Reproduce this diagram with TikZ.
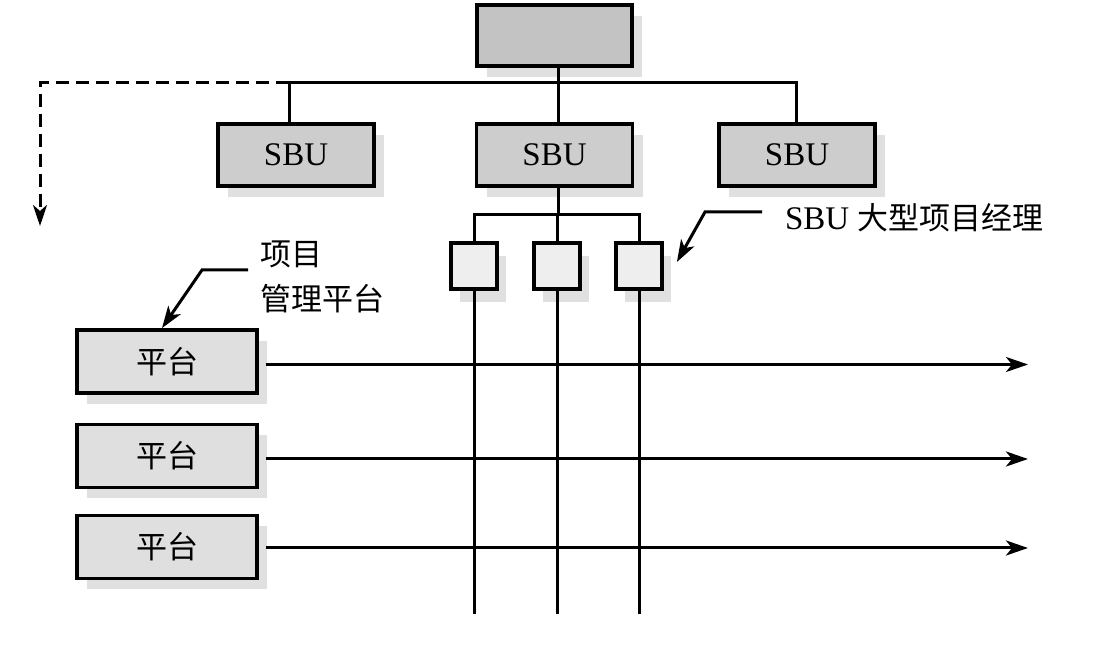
\documentclass[tikz,border=0pt]{standalone}
\usepackage{fontspec}
\setmainfont{Liberation Serif}
\newfontfamily\cjk{Noto Sans CJK SC}
\usetikzlibrary{shadows,arrows.meta}
\definecolor{topfill}{HTML}{C3C3C3}
\definecolor{sbufill}{HTML}{CDCDCD}
\definecolor{lightfill}{HTML}{EEEEEE}
\definecolor{platfill}{HTML}{DFDFDF}
\definecolor{shadowc}{HTML}{E0E0E0}
\begin{document}
\begin{tikzpicture}[x=0.5pt,y=-0.5pt,
  box/.style={draw, line width=1.9pt, inner sep=0pt,
    drop shadow={shadow xshift=5pt, shadow yshift=-5.5pt, fill=shadowc, opacity=1}},
  sqbox/.style={draw, line width=1.9pt, inner sep=0pt, fill=lightfill,
    minimum width=23pt, minimum height=23pt,
    drop shadow={shadow xshift=4.5pt, shadow yshift=-6.5pt, fill=shadowc, opacity=1}},
  sbu/.style={box, fill=sbufill, minimum width=78pt, minimum height=31pt,
    font=\fontsize{16.5}{19}\selectfont},
  plat/.style={box, fill=platfill, minimum width=90pt, minimum height=31.5pt,
    font=\cjk\fontsize{15.5}{19}\selectfont},
  link/.style={line width=1.5pt},
  arr/.style={line width=1.5pt, -{Stealth[length=11pt,width=7.5pt,inset=3pt]}},
  dashline/.style={line width=1.5pt, dash pattern=on 6.5pt off 3.5pt,
    -{Stealth[length=10.5pt,width=7pt,inset=3pt]}}
]
\useasboundingbox (0,0) rectangle (1105,652);

% boxes
\node[box, fill=topfill, minimum width=77.5pt, minimum height=30.5pt] (top) at (554.5,35.5) {};
\node[sbu] (s1) at (296,155) {SBU};
\node[sbu] (s2) at (554.5,155) {SBU};
\node[sbu] (s3) at (797,155) {SBU};

\node[sqbox] (q1) at (474,266) {};
\node[sqbox] (q2) at (557,266) {};
\node[sqbox] (q3) at (639,266) {};

\node[plat] (p1) at (167,361.5) {平台};
\node[plat] (p2) at (167,456) {平台};
\node[plat] (p3) at (167,547) {平台};

% labels
\node[anchor=west, align=left, font=\cjk\fontsize{15.5}{22.5}\selectfont] (lab1) at (253,277) {项目\\管理平台};
\node[anchor=west, font=\fontsize{16.5}{19}\selectfont] (lab2) at (778,218) {SBU {\cjk\fontsize{15.5}{19}\selectfont 大型项目经理}};

% coordinates
\coordinate (barL) at (289,83);
\coordinate (barR) at (796,83);
\coordinate (barM) at (558,83);
\coordinate (dashC) at (40,83);
\coordinate (dashE) at (40,226);
\coordinate (sub) at (558,215);
\coordinate (bot) at (0,614);
\coordinate (aend) at (1028,0);
\coordinate (l1a) at (248,270);
\coordinate (l1b) at (202,270);
\coordinate (l2a) at (762,212);
\coordinate (l2b) at (705,212);

% tree connectors
\draw[link] (top.south -| barM) -- (s2.north -| barM);
\draw[link] (barL |- s1.north) -- (barL) -- (barR) -- (barR |- s3.north);
\draw[dashline] (barL) -- (dashC) -- (dashE);

\draw[link] (s2.south -| sub) -- (sub);
\draw[link] (q1.north) -- (q1 |- sub) -- (q3 |- sub) -- (q3.north);
\draw[link] (q2.north) -- (q2 |- sub);
\draw[link] (q1.south) -- (q1 |- bot);
\draw[link] (q2.south) -- (q2 |- bot);
\draw[link] (q3.south) -- (q3 |- bot);

% platform arrows
\draw[arr] ([xshift=3.5pt,yshift=-1.5pt]p1.east) -- ([yshift=-1.5pt]p1.east -| aend);
\draw[arr] ([xshift=3.5pt,yshift=-1.5pt]p2.east) -- ([yshift=-1.5pt]p2.east -| aend);
\draw[arr] ([xshift=3.5pt,yshift=-0.5pt]p3.east) -- ([yshift=-0.5pt]p3.east -| aend);

% leaders
\draw[arr] (l1a) -- (l1b) -- ([xshift=-2.5pt]p1.north);
\draw[arr] (l2a) -- (l2b) -- ([xshift=6.5pt,yshift=2pt]q3.east);
\end{tikzpicture}
\end{document}
